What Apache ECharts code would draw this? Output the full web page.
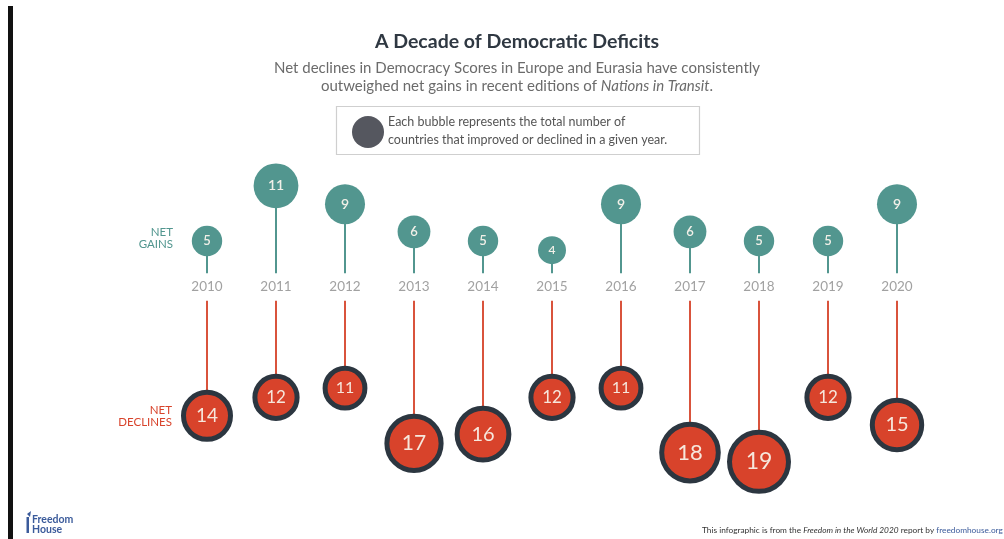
<!DOCTYPE html>
<html>
<head>
<meta charset="utf-8">
<script src="https://cdn.jsdelivr.net/npm/echarts@6/dist/echarts.min.js"></script>
<style>
  html, body { margin: 0; padding: 0; background: #ffffff; }
  #chart { width: 1004px; height: 539px; }
</style>
</head>
<body>
<div id="chart"></div>
<script>
// Net gains and net declines in Democracy Scores, per edition year
const years = ['2010', '2011', '2012', '2013', '2014', '2015', '2016', '2017', '2018', '2019', '2020'];
const netGains = [5, 11, 9, 6, 5, 4, 9, 6, 5, 5, 9];
const netDeclines = [14, 12, 11, 17, 16, 12, 11, 18, 19, 12, 15];

const TEAL = '#52968f';
const RED = '#d8432b';
const RING = '#2c3640';
const FONT = 'Lato, "Open Sans", sans-serif';

// bubble diameter grows with the count
const diameter = v => 18.4 + 2.4 * v;
const STEM_GAP = 1.5; // stems start clear of the year labels

const chart = echarts.init(document.getElementById('chart'), null, { renderer: 'canvas' });

const gainPts = netGains.map((v, i) => [i, v, v]);
const declinePts = netDeclines.map((v, i) => [i, -v, v]);

function stem(color, sign) {
  return function (params, api) {
    const i = api.value(0);
    const p0 = api.coord([i, sign * STEM_GAP]);
    const p1 = api.coord([i, api.value(1)]);
    return {
      type: 'line',
      shape: { x1: p0[0], y1: p0[1], x2: p1[0], y2: p1[1] },
      style: { stroke: color, lineWidth: 2 }
    };
  };
}

chart.setOption({
  animation: false,
  backgroundColor: '#ffffff',
  grid: { left: 172.5, right: 72.5, top: 57, bottom: 22 },
  xAxis: { type: 'category', data: years, show: false, boundaryGap: true },
  yAxis: { type: 'value', min: -25, max: 25, show: false },
  series: [
    {
      type: 'custom', name: 'gainStems', data: gainPts,
      renderItem: stem(TEAL, 1), z: 1, silent: true
    },
    {
      type: 'custom', name: 'declineStems', data: declinePts,
      renderItem: stem('#d9533c', -1), z: 1, silent: true
    },
    {
      type: 'scatter', name: 'Net gains', z: 3,
      data: gainPts.map(d => ({
        value: d,
        label: { fontSize: Math.round(11 + 0.3 * d[2]) }
      })),
      symbolSize: d => diameter(d[2]),
      itemStyle: { color: TEAL, opacity: 1 },
      label: {
        show: true, position: 'inside',
        formatter: p => String(p.value[2]),
        color: '#f2f0e8', fontFamily: FONT, fontWeight: 600
      }
    },
    {
      type: 'scatter', name: 'Net declines', z: 3,
      data: declinePts.map(d => ({
        value: d,
        label: { fontSize: Math.round(diameter(d[2]) * 0.36) }
      })),
      symbolSize: d => diameter(d[2]) - 5,
      itemStyle: { color: RED, borderColor: RING, borderWidth: 5, opacity: 1 },
      label: {
        show: true, position: 'inside',
        formatter: p => String(p.value[2]),
        color: '#f6e7dc', fontFamily: FONT
      }
    },
    {
      type: 'scatter', name: 'years', data: years.map((y, i) => [i, 0]), z: 2,
      symbolSize: 0,
      label: {
        show: true, position: 'inside',
        formatter: p => years[p.value[0]],
        color: '#8a8a8a', fontFamily: FONT, fontSize: 13.5
      }
    }
  ],
  graphic: [
    // left edge bar
    { type: 'rect', shape: { x: 8, y: 6, width: 5, height: 540 }, style: { fill: '#111111' } },
    {
      type: 'text', x: 517, y: 42,
      style: {
        text: 'A Decade of Democratic Deficits', fill: '#2f3842',
        font: 'bold 19.5px ' + FONT, align: 'center', verticalAlign: 'middle'
      }
    },
    {
      type: 'text', x: 517, y: 68,
      style: {
        text: 'Net declines in Democracy Scores in Europe and Eurasia have consistently',
        fill: '#6b6b6b', font: '15px ' + FONT, align: 'center', verticalAlign: 'middle'
      }
    },
    {
      type: 'text', x: 517, y: 86,
      style: {
        rich: {
          n: { fill: '#6b6b6b', font: '15px ' + FONT },
          i: { fill: '#6b6b6b', font: 'italic 15px ' + FONT }
        },
        text: '{n|outweighed net gains in recent editions of }{i|Nations in Transit}{n|.}',
        align: 'center', verticalAlign: 'middle'
      }
    },
    // legend box
    {
      type: 'rect', shape: { x: 336.5, y: 106.5, width: 363, height: 48 },
      style: { fill: '#ffffff', stroke: '#cfcfcf', lineWidth: 1.2 }
    },
    { type: 'circle', shape: { cx: 368, cy: 132, r: 16 }, style: { fill: '#55575f' } },
    {
      type: 'text', x: 388, y: 122,
      style: {
        text: 'Each bubble represents the total number of',
        fill: '#555555', font: '12.5px ' + FONT, verticalAlign: 'middle'
      }
    },
    {
      type: 'text', x: 388, y: 140,
      style: {
        text: 'countries that improved or declined in a given year.',
        fill: '#555555', font: '12.5px ' + FONT, verticalAlign: 'middle'
      }
    },
    // side labels
    {
      type: 'text', x: 173, y: 232,
      style: { text: 'NET', fill: TEAL, font: '11.5px ' + FONT, align: 'right', verticalAlign: 'middle' }
    },
    {
      type: 'text', x: 173, y: 244,
      style: { text: 'GAINS', fill: TEAL, font: '11.5px ' + FONT, align: 'right', verticalAlign: 'middle' }
    },
    {
      type: 'text', x: 172, y: 410,
      style: { text: 'NET', fill: RED, font: '11.5px ' + FONT, align: 'right', verticalAlign: 'middle' }
    },
    {
      type: 'text', x: 172, y: 422,
      style: { text: 'DECLINES', fill: RED, font: '11.5px ' + FONT, align: 'right', verticalAlign: 'middle' }
    },
    // Freedom House logo
    {
      type: 'polygon', shape: { points: [[27, 514], [31, 511], [30, 517]] },
      style: { fill: '#3b5b9b' }
    },
    { type: 'rect', shape: { x: 26.5, y: 517, width: 2.5, height: 16 }, style: { fill: '#3b5b9b' } },
    {
      type: 'text', x: 32, y: 520,
      style: { text: 'Freedom', fill: '#3b5b9b', font: 'bold 10.5px ' + FONT, verticalAlign: 'middle' }
    },
    {
      type: 'text', x: 32, y: 530,
      style: { text: 'House', fill: '#3b5b9b', font: 'bold 10.5px ' + FONT, verticalAlign: 'middle' }
    },
    // footer credit
    {
      type: 'text', x: 702, y: 530,
      style: {
        rich: {
          n: { fill: '#333333', font: '8.3px ' + FONT },
          i: { fill: '#333333', font: 'italic 8.3px ' + FONT },
          b: { fill: '#3b5b9b', font: '8.3px ' + FONT }
        },
        text: '{n|This infographic is from the }{i|Freedom in the World 2020}{n| report by }{b|freedomhouse.org}',
        verticalAlign: 'middle'
      }
    }
  ]
});
</script>
</body>
</html>
